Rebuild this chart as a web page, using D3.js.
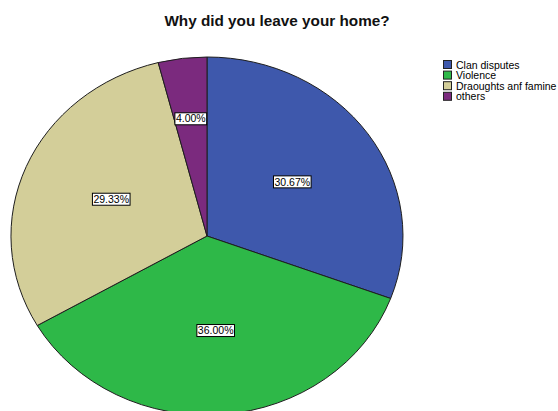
<!DOCTYPE html>
<html>
<head>
<meta charset="utf-8">
<script src="https://cdn.jsdelivr.net/npm/d3@7"></script>
<style>
  html, body { margin: 0; padding: 0; background: #fff; }
  svg { display: block; font-family: "Liberation Sans", Arial, sans-serif; }
</style>
</head>
<body>
<svg id="chart" width="558" height="411"></svg>
<script>
// Reasons for leaving home (percent of respondents)
const categories = ["Clan disputes", "Violence", "Draoughts anf famine", "others"];
const values = [30.67, 36.00, 29.33, 4.00];
const colors = ["#3e58ac", "#2eb848", "#d3ce99", "#7b2a7e"];
const title = "Why did you leave your home?";

const svg = d3.select("#chart");

svg.append("text")
  .attr("x", 277).attr("y", 26)
  .attr("text-anchor", "middle")
  .attr("font-size", 15.3).attr("font-weight", "bold")
  .attr("fill", "#111")
  .text(title);

// Elliptical pie: draw a unit circle and stretch it
const cx = 207, cy = 236, rx = 196, ry = 179;
const pie = d3.pie().sort(null).value(d => d)(values);
const arc = d3.arc().innerRadius(0).outerRadius(1);

const g = svg.append("g").attr("transform", `translate(${cx},${cy})`);
g.selectAll("path.slice")
  .data(pie)
  .join("path")
  .attr("class", "slice")
  .attr("d", arc)
  .attr("transform", `scale(${rx},${ry})`)
  .attr("fill", (d, i) => colors[i])
  .attr("stroke", "#1e1e1e")
  .attr("stroke-width", 1)
  .attr("vector-effect", "non-scaling-stroke");

// Percentage labels in boxed tags
const fmt = d3.format(".2f");
const labels = g.selectAll("g.lab")
  .data(pie)
  .join("g")
  .attr("class", "lab")
  .attr("transform", d => {
    const a = (d.startAngle + d.endAngle) / 2;
    const k = (d.endAngle - d.startAngle) < 0.35 ? 0.66 : 0.53;
    return `translate(${k * rx * Math.sin(a)},${-k * ry * Math.cos(a)})`;
  });

labels.each(function (d) {
  const sel = d3.select(this);
  const t = sel.append("text")
    .attr("text-anchor", "middle")
    .attr("dy", "0.35em")
    .attr("font-size", 10.5)
    .attr("fill", "#000")
    .text(fmt(d.data) + "%");
  const bb = t.node().getBBox();
  sel.insert("rect", "text")
    .attr("x", bb.x - 1).attr("y", -6)
    .attr("width", bb.width + 2).attr("height", 12)
    .attr("fill", "#fff").attr("stroke", "#000").attr("stroke-width", 1);
});

// Legend
const leg = svg.append("g").attr("transform", "translate(443,60)");
const rows = leg.selectAll("g").data(categories).join("g")
  .attr("transform", (d, i) => `translate(0,${i * 10.6})`);
rows.append("rect")
  .attr("x", 0.5).attr("y", 0.5).attr("width", 8).attr("height", 8)
  .attr("fill", (d, i) => colors[i])
  .attr("stroke", "#222").attr("stroke-width", 1);
rows.append("text")
  .attr("x", 13).attr("y", 8.5)
  .attr("font-size", 10.5)
  .attr("fill", "#000")
  .text(d => d);
</script>
</body>
</html>
